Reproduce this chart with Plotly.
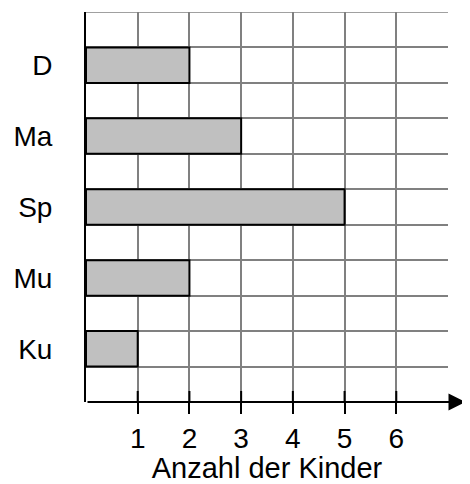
import plotly.graph_objects as go

categories = ["D", "Ma", "Sp", "Mu", "Ku"]
counts = [2, 3, 5, 2, 1]
x_tick_values = [1, 2, 3, 4, 5, 6]
x_tick_labels = ["1", "2", "3", "4", "5", "6"]
x_title = "Anzahl der Kinder"

n = len(categories)
# each category occupies one row, separated by empty rows
y_pos = [2 * (n - 1 - i) + 1.5 for i in range(n)]
y_max = 2 * n + 1
x_max = 7

font_family = "Liberation Sans, Arial, sans-serif"

# page body has an 8px margin, so the figure is sized to fit the window
W, H = 462, 476
ML, MR, MT, MB = 78, 22, 4, 82
ARROW_END = W - ML - 4.5  # pixels from the plot's left edge (head tip pokes past it)

fig = go.Figure()
fig.add_trace(go.Bar(
    x=counts, y=y_pos, orientation="h", width=1,
    marker=dict(color="#c0c0c0", line=dict(color="black", width=2)),
    hoverinfo="skip",
))

shapes = []
for v in x_tick_values:
    shapes.append(dict(type="line", xref="x", yref="paper", ysizemode="pixel",
                       yanchor=0, x0=v, x1=v, y0=0, y1=11,
                       line=dict(color="black", width=2), layer="above"))
# top grid line
shapes.append(dict(type="line", xref="paper", yref="y", x0=0, x1=1, y0=y_max, y1=y_max,
                   line=dict(color="#808080", width=1.5), layer="below"))

plot_w = W - ML - MR
fig.update_layout(
    width=W, height=H,
    margin=dict(l=ML, r=MR, t=MT, b=MB, autoexpand=False),
    plot_bgcolor="white", paper_bgcolor="white",
    showlegend=False,
    font=dict(family=font_family, color="black", size=28),
    xaxis=dict(
        range=[0, x_max], tickmode="array", tickvals=x_tick_values, ticktext=x_tick_labels,
        showgrid=False, zeroline=False, showline=False, automargin=False,
        ticks="outside", ticklen=11, tickwidth=2, tickcolor="black",
        tickfont=dict(size=28),
        minor=dict(tickmode="array", tickvals=list(range(1, x_max + 1)), showgrid=True,
                   gridcolor="#808080", gridwidth=1.5, ticks=""),
        title=dict(text=x_title, font=dict(size=29), standoff=6),
    ),
    yaxis=dict(
        range=[0, y_max], tickmode="array", tickvals=y_pos, ticktext=categories,
        showgrid=False, zeroline=False, showline=True, linecolor="black", linewidth=2,
        ticks="", tickfont=dict(size=28), ticklabelstandoff=26, automargin=False,
        minor=dict(tickmode="array", tickvals=list(range(1, y_max + 1)), showgrid=True,
                   gridcolor="#808080", gridwidth=1.5, ticks=""),
    ),
    shapes=shapes,
    annotations=[dict(
        x=ARROW_END / plot_w, y=0, xref="paper", yref="paper",
        ax=-ARROW_END, ay=0, axref="pixel", ayref="pixel",
        text="", showarrow=True, arrowhead=2, arrowsize=1.7, arrowwidth=2,
        arrowcolor="black", standoff=0, startstandoff=0,
    )],
)

fig.write_html("out.html")
